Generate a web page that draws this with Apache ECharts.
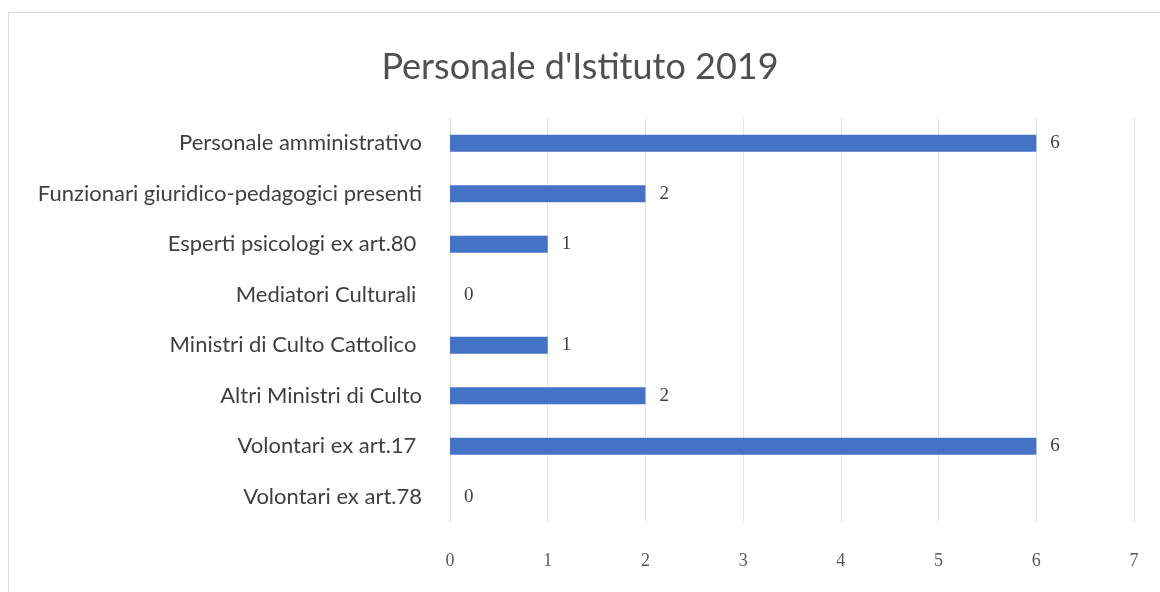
<!DOCTYPE html>
<html><head><meta charset="utf-8">
<script src="https://cdn.jsdelivr.net/npm/echarts@6/dist/echarts.min.js"></script>
<style>
html,body{margin:0;padding:0;background:#fff;}
#frame{position:absolute;left:8px;top:12px;width:1160px;height:590px;border:1px solid #d9d9d9;box-sizing:border-box;}
#c{position:absolute;left:0;top:0;width:1160px;height:592px;}
</style></head>
<body>
<div id="frame"></div>
<div id="c"></div>
<script>
const titleText = "Personale d'Istituto 2019";
const categories = [
  "Personale amministrativo",
  "Funzionari giuridico-pedagogici presenti",
  "Esperti psicologi ex art.80 ",
  "Mediatori Culturali ",
  "Ministri di Culto Cattolico ",
  "Altri Ministri di Culto",
  "Volontari ex art.17 ",
  "Volontari ex art.78"
];
const values = [6, 2, 1, 0, 1, 2, 6, 0];
const xTicks = [0, 1, 2, 3, 4, 5, 6, 7];

const chart = echarts.init(document.getElementById('c'));
chart.setOption({
  backgroundColor: 'transparent',
  animation: false,
  title: {
    text: titleText, left: 'center', top: 44,
    textStyle: { fontFamily: 'Lato, "Open Sans", sans-serif', fontSize: 36, fontWeight: 'normal', color: '#505050' }
  },
  grid: { left: 450, right: 26, top: 118, bottom: 70, containLabel: false },
  xAxis: {
    type: 'value', min: xTicks[0], max: xTicks[xTicks.length - 1], interval: 1,
    axisLine: { show: false }, axisTick: { show: false },
    splitLine: { show: true, lineStyle: { color: '#e4e4e4', width: 1 } },
    axisLabel: { margin: 30, fontFamily: '"Liberation Serif", serif', fontSize: 18, color: '#595959' }
  },
  yAxis: {
    type: 'category', data: categories, inverse: true,
    axisLine: { show: true, lineStyle: { color: '#e0e0e0' } }, axisTick: { show: false },
    axisLabel: { margin: 28, fontFamily: 'Lato, "Open Sans", sans-serif', fontSize: 22, color: '#404040' }
  },
  series: [{
    type: 'bar', data: values, barWidth: 17,
    itemStyle: { color: '#4472C4' },
    label: { show: true, position: 'right', distance: 14, fontFamily: '"Liberation Serif", serif', fontSize: 19, color: '#404040' }
  }]
});
</script>
</body></html>
